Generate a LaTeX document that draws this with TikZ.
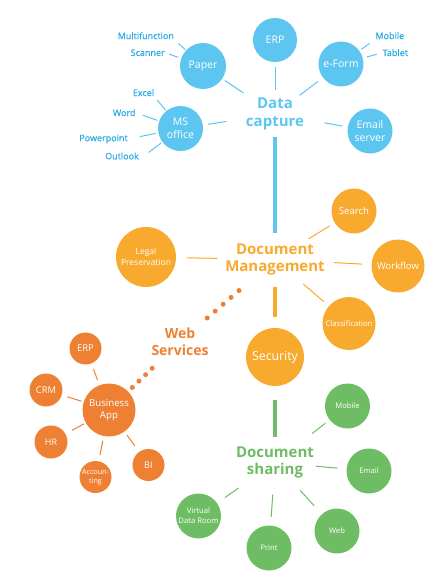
\documentclass[tikz,border=0pt]{standalone}
\usepackage{fontspec}
\setmainfont{Open Sans}
\newfontfamily\tagfont[FakeBold=0.6]{Open Sans}
\def\thinedge{1}
\def\thickedge{4.5}
\definecolor{captureblue}{RGB}{92,198,240}
\definecolor{tagblue}{RGB}{40,170,226}
\definecolor{manageorange}{RGB}{248,170,46}
\definecolor{weborange}{RGB}{238,128,52}
\definecolor{sharegreen}{RGB}{110,189,100}

\begin{document}
\begin{tikzpicture}[x = 1pt, y = -1pt,
    bubble/.style={circle,fill=#1,text=white,inner sep=0pt,align=center},
    hub/.style={text=#1,font=\bfseries\fontsize{15}{17.7}\selectfont,align=center,inner sep=0pt},
    sublabel/.style={text=tagblue,font=\tagfont\fontsize{9}{10}\selectfont,inner sep=0pt},
    thinlink/.style={line width=\thinedge,color=#1},
    thickbar/.style={line width=\thickedge,color=#1},
    dotrow/.style={line width=5,color=weborange,line cap=round,dash pattern=on 0pt off #1}]

            \useasboundingbox (0,0) rectangle (431,575);

            % data capture
            \node[hub=captureblue] (dc) at (275,114) {Data\\capture};
            \node[bubble=captureblue,minimum size=44,font=\fontsize{10.5}{13}\selectfont] (erpa) at (275,40) {ERP};
            \node[bubble=captureblue,minimum size=46,font=\fontsize{10.5}{13}\selectfont] (paper) at (203,66) {Paper};
            \node[bubble=captureblue,minimum size=45,font=\fontsize{10.5}{13}\selectfont] (eform) at (341,64) {e-Form};
            \node[bubble=captureblue,minimum size=45,font=\fontsize{10.5}{13}\selectfont] (ms) at (180.5,128.5) {MS\\office};
            \node[bubble=captureblue,minimum size=45,font=\fontsize{10.5}{13}\selectfont] (email) at (370,131) {Email\\server};

            \node[sublabel] (mf) at (145.8,35.7) {Multifunction};
            \node[sublabel] (sc) at (147.7,52.7) {Scanner};
            \node[sublabel] (ex) at (143.5,92.7) {Excel};
            \node[sublabel] (wd) at (124.2,112.7) {Word};
            \node[sublabel] (pp) at (103.5,139) {Powerpoint};
            \node[sublabel] (ol) at (122,156) {Outlook};
            \node[sublabel] (mo) at (389.8,35.7) {Mobile};
            \node[sublabel] (tb) at (395.3,52.7) {Tablet};

            \draw[thinlink=captureblue,shorten <=6,shorten >=1] (mf.south east) -- (paper);
            \draw[thinlink=captureblue,shorten <=4.5,shorten >=3] (sc.east) -- (paper);
            \draw[thinlink=captureblue,shorten <=5,shorten >=1] (ex.south east) -- (ms);
            \draw[thinlink=captureblue,shorten <=7.5,shorten >=2] (wd.east) -- (ms);
            \draw[thinlink=captureblue,shorten <=12,shorten >=2.5] (pp.east) -- (ms);
            \draw[thinlink=captureblue,shorten <=12,shorten >=1.5] (ol.south east) -- (ms);
            \draw[thinlink=captureblue,shorten <=7,shorten >=2.5] (mo.south west) -- (eform);
            \draw[thinlink=captureblue,shorten <=6,shorten >=4] (tb.west) -- (eform);

            \draw[thinlink=captureblue,shorten <=3.2,shorten >=38] (paper) -- (dc.center);
            \draw[thinlink=captureblue,shorten <=4.5,shorten >=23.5] (erpa) -- (dc.center);
            \draw[thinlink=captureblue,shorten <=6.3,shorten >=31] (eform) -- (dc.center);
            \draw[thinlink=captureblue,shorten <=5,shorten >=49.2] (ms) -- (dc.center);
            \draw[thinlink=captureblue,shorten <=5.2,shorten >=50.2] (email) -- (dc.center);

            % document management
            \node[hub=manageorange] (dm) at (275,259.5) {Document\\Management};
            \node[bubble=manageorange,minimum size=45,font=\fontsize{9.6}{11}\selectfont] (search) at (354,211) {Search};
            \node[bubble=manageorange,minimum size=53,font=\fontsize{9.5}{11}\selectfont] (workflow) at (398,266) {Workflow};
            \node[bubble=manageorange,minimum size=53,font=\fontsize{7.7}{9}\selectfont] (classif) at (349,323.5) {Classification};
            \node[bubble=manageorange,minimum size=60,font=\fontsize{8.5}{10.7}\selectfont] (legal) at (146,257) {Legal\\Preservation};
            \node[bubble=manageorange,minimum size=58,font=\fontsize{12.3}{14}\selectfont] (security) at (275,357) {Security};

            \draw[thickbar=captureblue,shorten <=23,shorten >=26.2] (dc.center) -- (dm.center);
            \draw[thinlink=manageorange,shorten <=10.7,shorten >=57.7] (legal) -- (dm.center);
            \draw[thinlink=manageorange,shorten <=5.9,shorten >=39.5] (search) -- (dm.center);
            \draw[thinlink=manageorange,shorten <=9.4,shorten >=59.3] (workflow) -- (dm.center);
            \draw[thinlink=manageorange,shorten <=6.6,shorten >=37.5] (classif) -- (dm.center);
            \draw[thickbar=manageorange,shorten <=27.8,shorten >=10.7] (dm.center) -- (security);

            % web services
            \node[hub=weborange,font=\bfseries\fontsize{14}{16.7}\selectfont] (ws) at (180,341.5) {Web\\Services};
            \node[bubble=weborange,minimum size=53,font=\fontsize{9.7}{11.7}\selectfont] (ba) at (109,410) {Business\\App};
            \node[bubble=weborange,minimum size=32,font=\fontsize{9.4}{11}\selectfont] (erpb) at (85.5,348.5) {ERP};
            \node[bubble=weborange,minimum size=33,font=\fontsize{9.4}{11}\selectfont] (crm) at (46,390) {CRM};
            \node[bubble=weborange,minimum size=33,font=\fontsize{9}{11}\selectfont] (hr) at (51,442) {HR};
            \node[bubble=weborange,minimum size=32,font=\fontsize{7.2}{9}\selectfont] (acc) at (95.5,477) {Accoun-\\ting};
            \node[bubble=weborange,minimum size=32,font=\fontsize{9.2}{11}\selectfont] (bi) at (148.5,465) {BI};

            \draw[dotrow=10.5,shorten <=47.5,shorten >=35.5] (dm.center) -- (ws.center);
            \draw[dotrow=9.2,shorten <=38.6,shorten >=32] (ws.center) -- (ba.center);

            \draw[thinlink=weborange,shorten <=6,shorten >=5.5] (erpb) -- (ba);
            \draw[thinlink=weborange,shorten <=5.6,shorten >=2.2] (crm) -- (ba);
            \draw[thinlink=weborange,shorten <=7.1,shorten >=1.8] (hr) -- (ba);
            \draw[thinlink=weborange,shorten <=6.3,shorten >=4.6] (acc) -- (ba);
            \draw[thinlink=weborange,shorten <=7.3,shorten >=4.4] (bi) -- (ba);

            % document sharing
            \node[hub=sharegreen] (ds) at (275,462.5) {Document\\sharing};
            \node[bubble=sharegreen,minimum size=45,font=\fontsize{7.6}{10}\selectfont] (mobile) at (347.5,406) {Mobile};
            \node[bubble=sharegreen,minimum size=45,font=\fontsize{7.6}{10}\selectfont] (emailb) at (369,471) {Email};
            \node[bubble=sharegreen,minimum size=45,font=\fontsize{7.6}{10}\selectfont] (web) at (337,531) {Web};
            \node[bubble=sharegreen,minimum size=45,font=\fontsize{7.6}{10}\selectfont] (print) at (269,548) {Print};
            \node[bubble=sharegreen,minimum size=45,font=\fontsize{7.7}{10}\selectfont] (vdr) at (198.5,516) {Virtual\\Data Room};

            \draw[thickbar=sharegreen,shorten <=14,shorten >=25.2] (security) -- (ds.center);
            \draw[thinlink=sharegreen,shorten <=5.3,shorten >=47] (mobile) -- (ds.center);
            \draw[thinlink=sharegreen,shorten <=8.9,shorten >=40.9] (emailb) -- (ds.center);
            \draw[thinlink=sharegreen,shorten <=11.5,shorten >=37.5] (web) -- (ds.center);
            \draw[thinlink=sharegreen,shorten <=8.2,shorten >=32.3] (print) -- (ds.center);
            \draw[thinlink=sharegreen,shorten <=9.5,shorten >=44.4] (vdr) -- (ds.center);

        \end{tikzpicture}
\end{document}
